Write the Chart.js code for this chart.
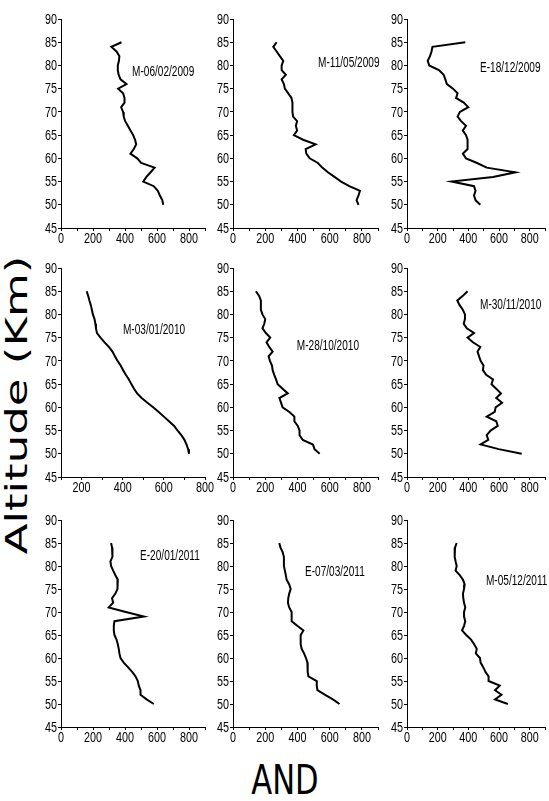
<!DOCTYPE html>
<html>
<head>
<meta charset="utf-8">
<script src="https://cdn.jsdelivr.net/npm/chart.js@4"></script>
<style>
body{margin:0;background:#fff;width:549px;height:801px;position:relative;overflow:hidden}
canvas{position:absolute}
#ylab{position:absolute;left:16px;top:405px;font-family:"DejaVu Sans",sans-serif;font-size:30px;white-space:nowrap;
transform:translate(-50%,-50%) rotate(-90deg) scaleX(1.5);color:#000}
#xlab{position:absolute;left:285px;top:780px;font-family:"Liberation Sans Narrow","DejaVu Sans Condensed",sans-serif;font-size:34px;
transform:translate(-50%,-50%) scaleY(1.2);color:#000}
</style>
</head>
<body>
<div id="ylab">Altitude (Km)</div>
<div id="xlab">AND</div>
<script>
var altitudes = [85,84,83,82,81,80,79,78,77,76,75,74,73,72,71,70,69,68,67,66,65,64,63,62,61,60,59,58,57,56,55,54,53,52,51,50];

var p1 = [378,315,347,365,362,355,355,360,372,409,357,388,397,397,376,388,392,401,418,434,451,463,470,455,434,476,501,585,560,534,514,580,605,618,633,639];
var p2 = [271,250,271,291,312,302,302,328,302,316,322,343,363,369,369,369,373,398,390,398,378,435,513,451,455,476,527,554,589,630,671,722,788,779,767,779];
var p3 = [380,166,160,150,135,145,208,239,250,260,300,330,320,370,400,345,330,353,385,364,385,395,395,395,364,385,457,520,707,561,291,437,447,437,447,478];
var p4 = [225,232,238,245,250,255,263,267,270,275,292,312,333,350,362,375,390,402,415,430,442,455,470,492,520,548,575,600,625,650,667,685,700,710,718,722];
var p5 = [142,162,173,173,173,183,200,194,183,204,231,208,225,246,221,229,242,246,256,267,277,308,340,288,298,308,350,381,381,402,413,413,433,496,506,538];
var p6 = [395,364,328,343,364,378,378,370,390,437,395,430,478,460,470,480,499,495,516,561,551,582,613,582,620,578,572,520,582,592,545,520,530,480,598,748];
var p7 = [313,319,324,319,309,313,326,340,355,355,351,340,319,326,298,405,518,334,330,330,334,347,355,361,365,372,392,418,445,466,480,486,497,497,535,580];
var p8 = [287,295,308,316,316,316,322,328,333,349,358,349,343,341,349,364,364,364,399,437,420,420,420,426,441,453,462,462,465,468,520,520,524,572,620,661];
var p9 = [324,313,309,313,317,324,317,344,365,376,372,365,367,372,380,372,372,380,372,359,386,418,438,455,449,476,480,497,511,532,532,605,574,616,574,658];

var series = [p1,p2,p3,p4,p5,p6,p7,p8,p9];
var titles = ['M-06/02/2009','M-11/05/2009','E-18/12/2009','M-03/01/2010','M-28/10/2010','M-30/11/2010','E-20/01/2011','E-07/03/2011','M-05/12/2011'];
var xRanges = [[0,900],[0,900],[0,900],[100,800],[0,900],[0,900],[0,900],[0,900],[0,900]];
var yTicks = [45,90];

// layout (pixels) of each panel
var axisLeft = [61,233,407], axisRight = [205,378,545];
var rowTop = [19,268,520], rowBottom = [228,477,727];
// where the panel names sit, in data units
var titlePos = [[444,78.6],[528,80.5],[476,79.4],[401,76.6],[396,73.2],[476,82],[494,82.2],[447,78.6],[515,76.6]];

var FAMILY = '"Liberation Sans", Arial, sans-serif';
var SQ = 0.72; // horizontal squeeze, the original uses a narrow face
var YW = 40, XH = 26, PT = 10, PR = 12;

function squeezed(ctx, text, x, y, align, base) {
	ctx.save();
	ctx.translate(x, y);
	ctx.scale(SQ, 1);
	ctx.textAlign = align;
	ctx.textBaseline = base;
	ctx.fillText(text, 0, 0);
	ctx.restore();
}

// tick labels and panel names, placed through the chart's scales
var labelPlugin = {
	id:'panelLabels',
	afterDraw:function(chart){
		var ctx = chart.ctx, sx = chart.scales.x, sy = chart.scales.y;
		var o = chart.options.plugins.panelLabels;
		ctx.save();
		ctx.fillStyle = '#000';
		ctx.font = '15px ' + FAMILY;
		sx.ticks.forEach(function(t){
			if (t.value % 200 === 0 && t.value <= 800)
				squeezed(ctx, String(t.value), sx.getPixelForValue(t.value), sx.top + 3, 'center', 'top');
		});
		sy.ticks.forEach(function(t){
			squeezed(ctx, String(t.value), sy.right - 4, sy.getPixelForValue(t.value) + 0.5, 'right', 'middle');
		});
		ctx.font = '14px ' + FAMILY;
		squeezed(ctx, o.text, sx.getPixelForValue(o.x), sy.getPixelForValue(o.y), 'left', 'middle');
		ctx.restore();
	}
};

for (var i = 0; i < 9; i++) {
	var r = Math.floor(i/3), c = i%3;
	var cv = document.createElement('canvas');
	var w = axisRight[c] - axisLeft[c] + YW + PR;
	var h = rowBottom[r] - rowTop[r] + PT + XH;
	cv.style.left = (axisLeft[c] - YW) + 'px';
	cv.style.top = (rowTop[r] - PT) + 'px';
	cv.style.width = w + 'px';
	cv.style.height = h + 'px';
	cv.width = w; cv.height = h;
	document.body.appendChild(cv);

	var pts = series[i].map(function(v, k){ return {x:v, y:altitudes[k]}; });

	new Chart(cv, {
		type:'scatter',
		data:{
			datasets:[{
				data:pts,
				showLine:true,
				borderColor:'#000',
				borderWidth:2,
				pointRadius:0,
				fill:false,
				tension:0
			}]
		},
		plugins:[labelPlugin],
		options:{
			responsive:false,
			animation:false,
			events:[],
			layout:{padding:{top:PT,right:PR,left:0,bottom:0}},
			plugins:{
				legend:{display:false},
				tooltip:{enabled:false},
				panelLabels:{text:titles[i], x:titlePos[i][0], y:titlePos[i][1]}
			},
			scales:{
				x:{
					type:'linear',
					min:xRanges[i][0],
					max:xRanges[i][1],
					afterFit:function(s){ s.height = XH; },
					afterBuildTicks:function(s){
						var t = [];
						for (var v = s.min; v <= s.max; v += 100) t.push({value:v});
						s.ticks = t;
					},
					border:{display:true, color:'#000', width:1},
					grid:{drawOnChartArea:false, drawTicks:true, tickLength:3, color:'#000', tickColor:'#000'},
					ticks:{display:false}
				},
				y:{
					type:'linear',
					min:yTicks[0],
					max:yTicks[1],
					afterFit:function(s){ s.width = YW; },
					border:{display:true, color:'#000', width:1},
					grid:{drawOnChartArea:false, drawTicks:true, tickLength:3, color:'#000', tickColor:'#000'},
					ticks:{display:false, stepSize:5}
				}
			}
		}
	});
}
</script>
</body>
</html>
